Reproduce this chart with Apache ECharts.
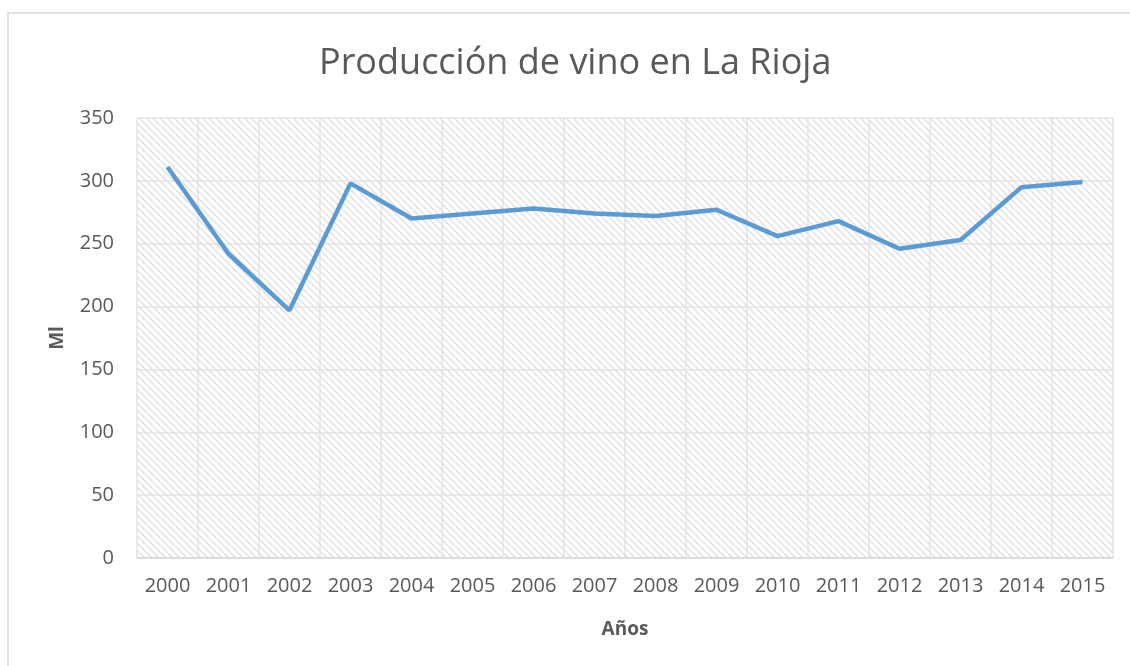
<!DOCTYPE html>
<html>
<head>
<meta charset="utf-8">
<script src="https://cdn.jsdelivr.net/npm/echarts@6/dist/echarts.min.js"></script>
<style>
html,body{margin:0;padding:0;background:#fff;}
#main{width:1130px;height:666px;}
</style>
</head>
<body>
<div id="main"></div>
<script>
// datos
var years = ['2000','2001','2002','2003','2004','2005','2006','2007','2008','2009','2010','2011','2012','2013','2014','2015'];
var produccion = [311, 242, 197, 298, 270, 274, 278, 274, 272, 277, 256, 268, 246, 253, 295, 299];

// trama rayada del fondo
var tile = document.createElement('canvas');
tile.width = 7; tile.height = 7;
var ctx = tile.getContext('2d');
ctx.fillStyle = '#ffffff';
ctx.fillRect(0, 0, 7, 7);
ctx.strokeStyle = '#e0e0e0';
ctx.lineWidth = 1.5;
[-7, 0, 7].forEach(function (o) {
    ctx.beginPath();
    ctx.moveTo(o, 0);
    ctx.lineTo(o + 7, 7);
    ctx.stroke();
});

var chart = echarts.init(document.getElementById('main'));
var option = {
    backgroundColor: '#fff',
    title: {
        text: 'Producción de vino en La Rioja',
        left: 314,
        top: 41,
        textStyle: {
            fontFamily: 'Open Sans',
            fontSize: 36,
            fontWeight: 'normal',
            color: '#595959'
        }
    },
    graphic: [{
        type: 'rect',
        shape: {x: 8, y: 13, width: 1140, height: 680},
        style: {fill: 'none', stroke: '#d9d9d9', lineWidth: 1.5},
        silent: true
    }],
    grid: {
        left: 137,
        right: 17,
        top: 118,
        bottom: 108,
        show: true,
        borderWidth: 0,
        backgroundColor: {image: tile, repeat: 'repeat'}
    },
    xAxis: {
        type: 'category',
        data: years,
        name: 'Años',
        nameLocation: 'middle',
        nameGap: 62,
        nameTextStyle: {fontFamily: 'Open Sans', fontSize: 19, fontWeight: 'bold', color: '#595959'},
        axisLine: {lineStyle: {color: '#d9d9d9', width: 1.5}},
        axisTick: {show: false},
        axisLabel: {fontFamily: 'Open Sans', fontSize: 20, color: '#595959', margin: 18},
        splitLine: {show: true, interval: 0, lineStyle: {color: '#e3e3e3', width: 1.5}}
    },
    yAxis: {
        type: 'value',
        min: 0,
        max: 350,
        interval: 50,
        name: 'Ml',
        nameLocation: 'middle',
        nameGap: 70,
        nameTextStyle: {fontFamily: 'Open Sans', fontSize: 19, fontWeight: 'bold', color: '#595959'},
        axisLine: {show: false},
        axisTick: {show: false},
        axisLabel: {fontFamily: 'Open Sans', fontSize: 20, color: '#595959', margin: 23},
        splitLine: {lineStyle: {color: '#e3e3e3', width: 1.5}}
    },
    series: [{
        type: 'line',
        data: produccion,
        symbol: 'none',
        lineStyle: {color: '#5b9bd5', width: 4.5},
        itemStyle: {color: '#5b9bd5'}
    }]
};
chart.setOption(option);
</script>
</body>
</html>
